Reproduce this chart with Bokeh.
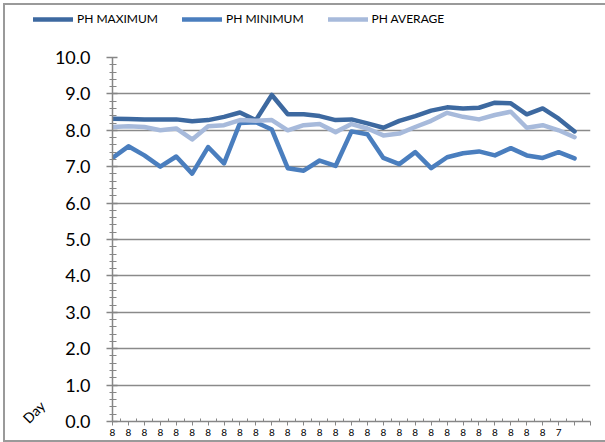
import math
from bokeh.plotting import figure
from bokeh.layouts import column, row
from bokeh.models import (Range1d, FixedTicker, PrintfTickFormatter, Legend, LegendItem,
                          LinearAxis, ColumnDataSource)
from bokeh.embed import file_html
from bokeh.resources import INLINE

day_labels = ["8"] * 28 + ["7", ""]
ph_max = [8.32, 8.31, 8.30, 8.30, 8.30, 8.25, 8.28, 8.37, 8.49, 8.28,
          8.97, 8.44, 8.44, 8.39, 8.28, 8.30, 8.19, 8.07, 8.26, 8.39,
          8.54, 8.63, 8.60, 8.62, 8.76, 8.74, 8.44, 8.60, 8.32, 7.97]
ph_min = [7.24, 7.56, 7.31, 7.00, 7.28, 6.81, 7.54, 7.09, 8.20, 8.22,
          8.02, 6.96, 6.89, 7.17, 7.02, 7.97, 7.89, 7.24, 7.07, 7.40,
          6.96, 7.26, 7.37, 7.42, 7.31, 7.51, 7.31, 7.24, 7.40, 7.23]
ph_avg = [8.09, 8.11, 8.09, 8.00, 8.05, 7.75, 8.11, 8.14, 8.28, 8.26,
          8.28, 8.00, 8.14, 8.17, 7.95, 8.17, 8.05, 7.86, 7.91, 8.09,
          8.26, 8.48, 8.37, 8.30, 8.42, 8.51, 8.07, 8.14, 8.00, 7.81]
series_names = ["PH MAXIMUM", "PH MINIMUM", "PH AVERAGE"]
series_colors = ["#3d69a0", "#4a7ebe", "#a7badb"]
y_ticks = [0, 1, 2, 3, 4, 5, 6, 7, 8, 9, 10]
axis_title = "Day"

days = list(range(len(ph_max)))
src = ColumnDataSource(dict(day=days, mx=ph_max, mn=ph_min, av=ph_avg))
kw = dict(line_width=4.5, line_join="round", line_cap="round")

# ---------------- main chart ----------------
p = figure(width=600, height=400, output_backend="svg", toolbar_location=None,
           x_range=Range1d(0, len(days)), y_range=Range1d(0, 10),
           min_border_left=107, min_border_right=15, min_border_top=17, min_border_bottom=19)
p.outline_line_color = None
p.background_fill_color = "white"
p.border_fill_color = "white"

axis_col = "#868686"
p.yaxis.ticker = FixedTicker(ticks=y_ticks, minor_ticks=[i * 0.2 for i in range(51)])
p.yaxis.formatter = PrintfTickFormatter(format="%.1f")
p.yaxis.axis_line_color = axis_col
p.yaxis.axis_line_width = 1.5
p.yaxis.major_tick_line_color = axis_col
p.yaxis.major_tick_line_width = 1.5
p.yaxis.minor_tick_line_color = axis_col
p.yaxis.minor_tick_line_width = 1.2
p.yaxis.major_tick_out = 6
p.yaxis.major_tick_in = 5
p.yaxis.minor_tick_out = 3
p.yaxis.minor_tick_in = 4
p.yaxis.major_label_standoff = 16
p.yaxis.major_label_text_font = "Lato"
p.yaxis.major_label_text_font_size = "18px"
p.yaxis.major_label_text_color = "black"

p.xaxis.ticker = FixedTicker(ticks=list(range(len(days) + 1)),
                             minor_ticks=[i + 0.5 for i in range(len(days))])
p.xaxis.major_label_overrides = {i: lab for i, lab in enumerate(day_labels)} | {len(days): ""}
p.xaxis.axis_line_color = axis_col
p.xaxis.axis_line_width = 1.5
p.xaxis.major_tick_line_color = axis_col
p.xaxis.minor_tick_line_color = axis_col
p.xaxis.major_tick_out = 4
p.xaxis.major_tick_in = 0
p.xaxis.minor_tick_out = 0
p.xaxis.minor_tick_in = 3
p.xaxis.major_label_standoff = 3
p.xaxis.major_label_text_font = "Lato"
p.xaxis.major_label_text_font_size = "10px"
p.xaxis.major_label_text_color = "black"

day_axis = LinearAxis(ticker=FixedTicker(ticks=[0.5]), major_label_overrides={0.5: axis_title},
                      axis_line_color=None, major_tick_line_color=None, minor_tick_line_color=None,
                      major_tick_out=0, major_tick_in=0, major_label_standoff=9,
                      major_label_orientation=math.pi / 4,
                      major_label_text_font="Lato", major_label_text_font_size="14px",
                      major_label_text_color="black")
p.add_layout(day_axis, "left")

p.xgrid.visible = False
p.ygrid.ticker = FixedTicker(ticks=y_ticks[1:-1])
p.ygrid.grid_line_color = "#8a8a8a"
p.ygrid.grid_line_width = 1.5

r_max = p.line("day", "mx", source=src, color=series_colors[0], **kw)
r_min = p.line("day", "mn", source=src, color=series_colors[1], **kw)
r_avg = p.line("day", "av", source=src, color=series_colors[2], **kw)

# ---------------- legend strip ----------------
lg = figure(width=600, height=35, output_backend="svg", toolbar_location=None,
            x_range=Range1d(100, 101), y_range=Range1d(100, 101),
            x_axis_location=None, y_axis_location=None,
            min_border_left=0, min_border_right=0, min_border_top=0, min_border_bottom=0)
lg.outline_line_color = None
lg.grid.visible = False
lr = [lg.line("day", col, source=src, color=c, **kw)
      for col, c in zip(["mx", "mn", "av"], series_colors)]
legend = Legend(items=[LegendItem(label=n, renderers=[r]) for n, r in zip(series_names, lr)],
                orientation="horizontal", location=(28, 14),
                glyph_width=40, glyph_height=14, label_height=14,
                label_standoff=4, spacing=24, padding=0, margin=0,
                label_text_font="Lato", label_text_font_size="12px",
                label_text_color="black",
                border_line_color=None, background_fill_alpha=0)
lg.add_layout(legend)

frame_css = "2px solid #9a9a9a"
layout = column(row(lg), p, spacing=0,
                styles={"margin-left": "3px", "margin-top": "3px",
                        "border-left": frame_css, "border-top": frame_css,
                        "border-bottom": frame_css})

open("out.html", "w").write(file_html(layout, INLINE))
